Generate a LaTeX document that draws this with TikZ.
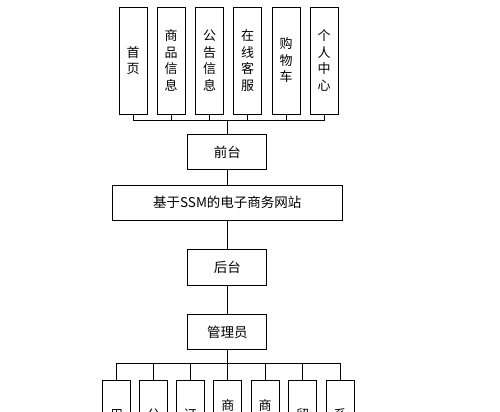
\documentclass[tikz,border=0pt]{standalone}
\usepackage{fontspec}
\newfontfamily\cjk{Noto Sans CJK SC}
\begin{document}
\begin{tikzpicture}[x=1bp,y=-1bp,line width=1bp,
  vbox/.style={draw,minimum width=28bp,minimum height=107bp,inner sep=0pt,align=center,
    font=\cjk\fontsize{13bp}{16.5bp}\selectfont},
  hbox/.style={draw,minimum width=79bp,minimum height=35.5bp,inner sep=0pt,
    font=\cjk\fontsize{13.5bp}{16bp}\selectfont},
  wbox/.style={draw,minimum width=230bp,minimum height=35bp,inner sep=0pt,
    font=\cjk\fontsize{13.5bp}{16bp}\selectfont},
  bbox/.style={draw,minimum width=28bp,minimum height=130bp,inner sep=0pt,anchor=north},
  vtext/.style={inner sep=0pt,anchor=north,align=center,
    font=\cjk\fontsize{13bp}{16.5bp}\selectfont},
  conn/.style={draw,line width=1bp}]
\useasboundingbox (0,0) rectangle (500,411);
\fill[white] (0,0) rectangle (500,411);
\clip (0,0) rectangle (500,411);
% top modules
\node[vbox] (t1) at (133,60.5) {首\\页};
\node[vbox] (t2) at (171.2,60.5) {商\\品\\信\\息};
\node[vbox] (t3) at (209.5,60.5) {公\\告\\信\\息};
\node[vbox] (t4) at (247.7,60.5) {在\\线\\客\\服};
\node[vbox] (t5) at (286,60.5) {购\\物\\车};
\node[vbox] (t6) at (324.2,60.5) {个\\人\\中\\心};
\coordinate (tbus) at (227.3,120.7);
% center column
\node[hbox] (qt) at (227.3,152.2) {前台};
\node[wbox] (ssm) at (227.3,202.5) {基于SSM的电子商务网站};
\node[hbox] (ht) at (227.3,267.5) {后台};
\node[hbox] (gly) at (227.3,332.2) {管理员};
\coordinate (bbus) at (227.3,363.3);
% bottom modules
\node[bbox] (b1) at (116.7,380) {};
\node[bbox] (b2) at (153.5,380) {};
\node[bbox] (b3) at (190.2,380) {};
\node[bbox] (b4) at (227.8,380) {};
\node[bbox] (b5) at (265.2,380) {};
\node[bbox] (b6) at (302.5,380) {};
\node[bbox] (b7) at (340,380) {};
\node[vtext] (b1t) at (116.7,408.5) {用\\户\\管\\理};
\node[vtext] (b2t) at (153.5,408.5) {公\\告\\管\\理};
\node[vtext] (b3t) at (190.2,408.5) {订\\单\\管\\理};
\node[vtext] (b4t) at (227.8,399.5) {商\\品\\分\\类\\管\\理};
\node[vtext] (b5t) at (265.2,399.5) {商\\品\\信\\息\\管\\理};
\node[vtext] (b6t) at (302.5,408.5) {留\\言\\管\\理};
\node[vtext] (b7t) at (340,408.5) {系\\统\\管\\理};
% top bus
\draw[conn] (t1.south |- tbus) -- (t6.south |- tbus);
\foreach \n in {t1,t2,t3,t4,t5,t6} \draw[conn] (\n.south) -- (\n.south |- tbus);
\draw[conn] (tbus) -- (qt.north);
% trunk
\draw[conn] (qt.south) -- (ssm.north);
\draw[conn] (ssm.south) -- (ht.north);
\draw[conn] (ht.south) -- (gly.north);
% bottom bus
\draw[conn] (gly.south) -- (bbus);
\draw[conn] (b1.north |- bbus) -- (b7.north |- bbus);
\foreach \n in {b1,b2,b3,b4,b5,b6,b7} \draw[conn] (\n.north |- bbus) -- (\n.north);
\end{tikzpicture}
\end{document}
